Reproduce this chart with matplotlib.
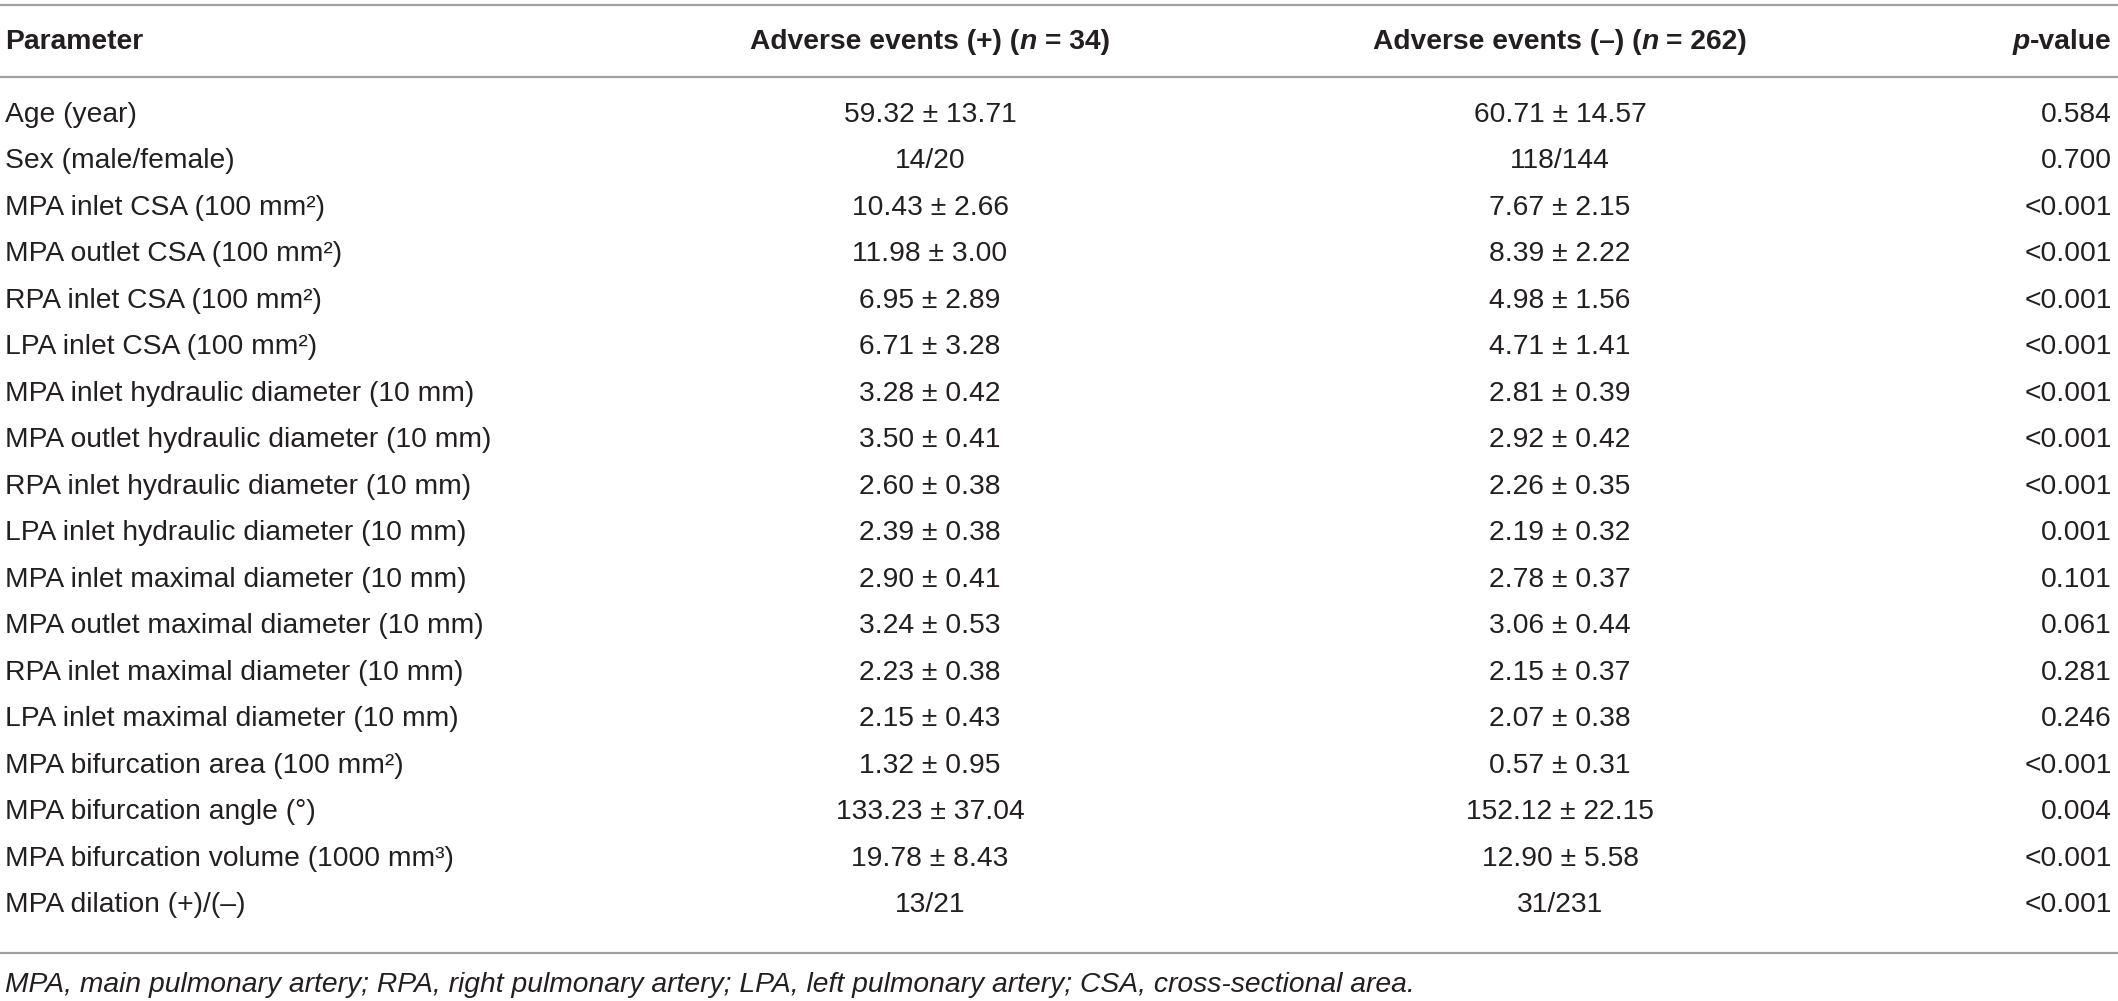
import matplotlib
matplotlib.use('Agg')
import matplotlib.pyplot as plt

# dados da tabela
parameters = [
    "Age (year)", "Sex (male/female)",
    "MPA inlet CSA (100 mm²)", "MPA outlet CSA (100 mm²)",
    "RPA inlet CSA (100 mm²)", "LPA inlet CSA (100 mm²)",
    "MPA inlet hydraulic diameter (10 mm)", "MPA outlet hydraulic diameter (10 mm)",
    "RPA inlet hydraulic diameter (10 mm)", "LPA inlet hydraulic diameter (10 mm)",
    "MPA inlet maximal diameter (10 mm)", "MPA outlet maximal diameter (10 mm)",
    "RPA inlet maximal diameter (10 mm)", "LPA inlet maximal diameter (10 mm)",
    "MPA bifurcation area (100 mm²)", "MPA bifurcation angle (°)",
    "MPA bifurcation volume (1000 mm³)", "MPA dilation (+)/(–)",
]
events_pos = [
    "59.32 ± 13.71", "14/20", "10.43 ± 2.66", "11.98 ± 3.00", "6.95 ± 2.89",
    "6.71 ± 3.28", "3.28 ± 0.42", "3.50 ± 0.41", "2.60 ± 0.38", "2.39 ± 0.38",
    "2.90 ± 0.41", "3.24 ± 0.53", "2.23 ± 0.38", "2.15 ± 0.43", "1.32 ± 0.95",
    "133.23 ± 37.04", "19.78 ± 8.43", "13/21",
]
events_neg = [
    "60.71 ± 14.57", "118/144", "7.67 ± 2.15", "8.39 ± 2.22", "4.98 ± 1.56",
    "4.71 ± 1.41", "2.81 ± 0.39", "2.92 ± 0.42", "2.26 ± 0.35", "2.19 ± 0.32",
    "2.78 ± 0.37", "3.06 ± 0.44", "2.15 ± 0.37", "2.07 ± 0.38", "0.57 ± 0.31",
    "152.12 ± 22.15", "12.90 ± 5.58", "31/231",
]
p_values = [
    "0.584", "0.700", "<0.001", "<0.001", "<0.001", "<0.001", "<0.001",
    "<0.001", "<0.001", "0.001", "0.101", "0.061", "0.281", "0.246",
    "<0.001", "0.004", "<0.001", "<0.001",
]
footnote = ("MPA, main pulmonary artery; RPA, right pulmonary artery; "
            "LPA, left pulmonary artery; CSA, cross-sectional area.")

W, H = 2118, 1001
FONT = 'Liberation Sans'
FS = 20.3
TXT = '#231f20'
LINE = '#a0a0a0'

fig = plt.figure(figsize=(W / 100, H / 100), dpi=100)
ax = fig.add_axes([0, 0, 1, 1])
ax.set_xlim(0, W)
ax.set_ylim(H, 0)
ax.axis('off')
renderer = fig.canvas.get_renderer()

body = dict(family=FONT, size=FS, color=TXT)
bold = dict(family=FONT, size=FS, color=TXT, weight='bold')
bold_it = dict(family=FONT, size=FS, color=TXT, weight='bold', style='italic')


def largura(s, style):
    t = ax.text(0, 0, s, **style)
    w = t.get_window_extent(renderer).width
    t.remove()
    return w


def escreve_partes(x, y, partes, ha):
    # mede cada pedaço e depois escreve lado a lado
    esp = largura('a a', partes[0][1]) - largura('aa', partes[0][1])
    infos = []
    total = 0
    for s, st in partes:
        lead = len(s) - len(s.lstrip(' '))
        trail = len(s) - len(s.rstrip(' '))
        w = largura(s.strip(' '), st)
        infos.append((s.strip(' '), st, lead * esp, w, trail * esp))
        total += lead * esp + w + trail * esp
    if ha == 'center':
        cx = x - total / 2
    elif ha == 'right':
        cx = x - total
    else:
        cx = x
    for s, st, l, w, t in infos:
        cx += l
        ax.text(cx, y, s, ha='left', va='center', **st)
        cx += w + t


x_par, x_pos, x_neg, x_p = 5, 930, 1560, 2112
y_head = 42
y0, dy = 115, (905 - 115) / 17

# linhas horizontais
for yl in (5, 77, 953):
    ax.plot([0, W], [yl, yl], color=LINE, lw=1.6, solid_capstyle='butt')

# cabeçalho
ax.text(x_par, y_head, "Parameter", ha='left', va='center', **bold)
escreve_partes(x_pos, y_head, [("Adverse events (+) (", bold), ("n", bold_it), (" = 34)", bold)], 'center')
escreve_partes(x_neg, y_head, [("Adverse events (–) (", bold), ("n", bold_it), (" = 262)", bold)], 'center')
escreve_partes(x_p, y_head, [("p", bold_it), ("-value", bold)], 'right')

# linhas da tabela
for i in range(len(parameters)):
    y = y0 + i * dy
    ax.text(x_par, y, parameters[i], ha='left', va='center', **body)
    ax.text(x_pos, y, events_pos[i], ha='center', va='center', **body)
    ax.text(x_neg, y, events_neg[i], ha='center', va='center', **body)
    ax.text(x_p, y, p_values[i], ha='right', va='center', **body)

ax.text(x_par, 985, footnote, ha='left', va='center', style='italic',
        family=FONT, size=FS, color=TXT)

fig.savefig('out.png', dpi=100)
